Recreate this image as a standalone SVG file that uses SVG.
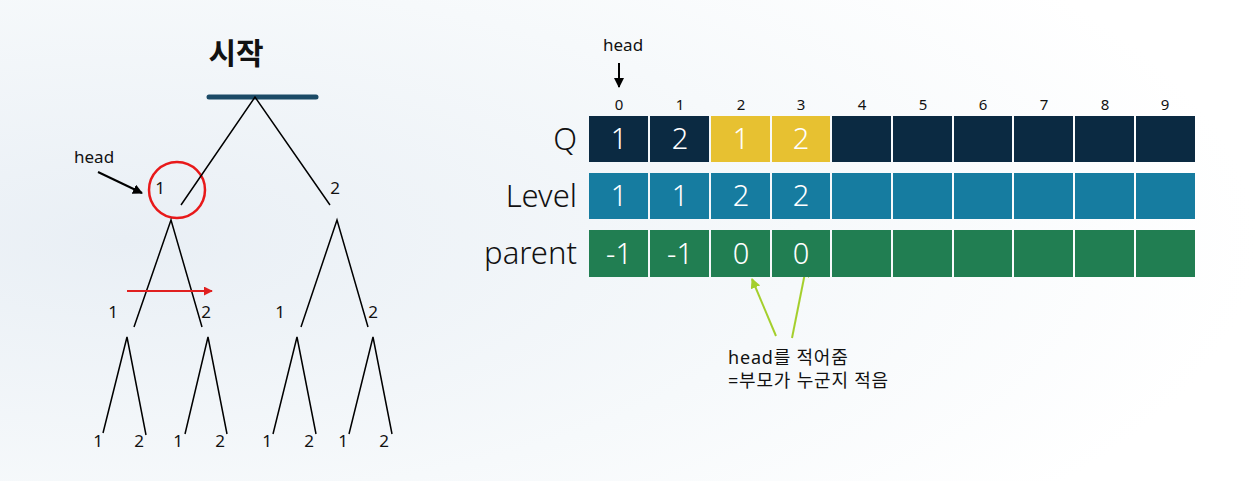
<svg xmlns="http://www.w3.org/2000/svg" width="1256" height="481" viewBox="0 0 1256 481">
<defs>
<radialGradient id="bg" cx="0.1" cy="0.5" r="0.9">
<stop offset="0" stop-color="#e9eff5"/>
<stop offset="0.6" stop-color="#f6f9fb"/>
<stop offset="1" stop-color="#ffffff"/>
</radialGradient>
<marker id="ab" viewBox="0 0 10 10" refX="9" refY="5" markerWidth="5" markerHeight="5" orient="auto"><path d="M0,0 L10,5 L0,10 z" fill="#000"/></marker>
<marker id="ar" viewBox="0 0 10 10" refX="9" refY="5" markerWidth="4.5" markerHeight="4.5" orient="auto"><path d="M0,0 L10,5 L0,10 z" fill="#e02020"/></marker>
<marker id="ag" viewBox="0 0 10 10" refX="9" refY="5" markerWidth="5" markerHeight="5" orient="auto"><path d="M0,0 L10,5 L0,10 z" fill="#a4cf2c"/></marker>
</defs>
<style>
text{font-family:"Noto Sans","Noto Sans CJK KR",sans-serif;fill:#111}
.t{font-size:17px}
.n{font-size:18px;letter-spacing:0.8px}
.idx{font-size:15px;text-anchor:middle}
.cell{font-size:29px;fill:#fff;text-anchor:middle;font-weight:300}
.rl{font-size:31px;text-anchor:end;font-weight:300}
.e{stroke:#000;stroke-width:1.5;fill:none}
.q{fill:#0b2a42}.y{fill:#e7c131}.l{fill:#167ca0}.p{fill:#217e52}
</style>
<rect width="1256" height="481" fill="url(#bg)"/>
<g id="title"><text x="236" y="64" font-size="30" font-weight="bold" text-anchor="middle">시작</text></g>
<g id="tree">
<line x1="209" y1="97" x2="316" y2="97" stroke="#1b4a66" stroke-width="5" stroke-linecap="round"/>
<circle cx="177" cy="190" r="28" fill="none" stroke="#e8191a" stroke-width="2.5"/>
<text x="160" y="194" class="t" text-anchor="middle">1</text>
<text x="335" y="194" class="t" text-anchor="middle">2</text>
<text x="113" y="318" class="t" text-anchor="middle">1</text>
<text x="206" y="318" class="t" text-anchor="middle">2</text>
<text x="280" y="318" class="t" text-anchor="middle">1</text>
<text x="373" y="318" class="t" text-anchor="middle">2</text>
<text x="98" y="447" class="t" text-anchor="middle">1</text>
<text x="139" y="447" class="t" text-anchor="middle">2</text>
<text x="178" y="447" class="t" text-anchor="middle">1</text>
<text x="220" y="447" class="t" text-anchor="middle">2</text>
<text x="267" y="447" class="t" text-anchor="middle">1</text>
<text x="309" y="447" class="t" text-anchor="middle">2</text>
<text x="343" y="447" class="t" text-anchor="middle">1</text>
<text x="384" y="447" class="t" text-anchor="middle">2</text>
<text x="74" y="163" class="t">head</text>
</g>
<g id="connectors">
<polyline class="e" points="181,205 255,97 330,205"/>
<polyline class="e" points="134,327 171,220 202,327"/>
<polyline class="e" points="301,327 337,220 368,327"/>
<polyline class="e" points="103,433 127,337 146,435"/>
<polyline class="e" points="185,434 208,337 227,434"/>
<polyline class="e" points="273,434 297,337 316,434"/>
<polyline class="e" points="349,434 373,337 392,434"/>
<line x1="98" y1="172" x2="142" y2="193" stroke="#000" stroke-width="2" marker-end="url(#ab)"/>
<line x1="127" y1="291" x2="212" y2="291" stroke="#e02020" stroke-width="2" marker-end="url(#ar)"/>
<line x1="619" y1="63" x2="619" y2="87" stroke="#000" stroke-width="2" marker-end="url(#ab)"/>
<line x1="776" y1="336" x2="752" y2="279" stroke="#a4cf2c" stroke-width="2" marker-end="url(#ag)"/>
<line x1="792" y1="338" x2="806" y2="268" stroke="#a4cf2c" stroke-width="2" marker-end="url(#ag)"/>
</g>
<g id="array">
<text x="603" y="51" class="t">head</text>
<g id="indices">
<text x="619" y="110" class="idx">0</text><text x="680" y="110" class="idx">1</text><text x="741" y="110" class="idx">2</text><text x="801" y="110" class="idx">3</text><text x="862" y="110" class="idx">4</text><text x="923" y="110" class="idx">5</text><text x="983" y="110" class="idx">6</text><text x="1044" y="110" class="idx">7</text><text x="1105" y="110" class="idx">8</text><text x="1165" y="110" class="idx">9</text>
</g>
<text x="577" y="150" class="rl">Q</text>
<text x="577" y="207" class="rl">Level</text>
<text x="577" y="264" class="rl">parent</text>
<g id="rowQ">
<rect x="589" y="116" width="59" height="46" class="q"/><rect x="650" y="116" width="59" height="46" class="q"/><rect x="711" y="116" width="59" height="46" class="y"/><rect x="772" y="116" width="58" height="46" class="y"/><rect x="832" y="116" width="59" height="46" class="q"/><rect x="893" y="116" width="59" height="46" class="q"/><rect x="954" y="116" width="58" height="46" class="q"/><rect x="1014" y="116" width="59" height="46" class="q"/><rect x="1075" y="116" width="59" height="46" class="q"/><rect x="1136" y="116" width="59" height="46" class="q"/>
<text x="619" y="149" class="cell">1</text><text x="680" y="149" class="cell">2</text><text x="741" y="149" class="cell">1</text><text x="801" y="149" class="cell">2</text>
</g>
<g id="rowLevel">
<rect x="589" y="173" width="59" height="46" class="l"/><rect x="650" y="173" width="59" height="46" class="l"/><rect x="711" y="173" width="59" height="46" class="l"/><rect x="772" y="173" width="58" height="46" class="l"/><rect x="832" y="173" width="59" height="46" class="l"/><rect x="893" y="173" width="59" height="46" class="l"/><rect x="954" y="173" width="58" height="46" class="l"/><rect x="1014" y="173" width="59" height="46" class="l"/><rect x="1075" y="173" width="59" height="46" class="l"/><rect x="1136" y="173" width="59" height="46" class="l"/>
<text x="619" y="206" class="cell">1</text><text x="680" y="206" class="cell">1</text><text x="741" y="206" class="cell">2</text><text x="801" y="206" class="cell">2</text>
</g>
<g id="rowParent">
<rect x="589" y="230" width="59" height="47" class="p"/><rect x="650" y="230" width="59" height="47" class="p"/><rect x="711" y="230" width="59" height="47" class="p"/><rect x="772" y="230" width="58" height="47" class="p"/><rect x="832" y="230" width="59" height="47" class="p"/><rect x="893" y="230" width="59" height="47" class="p"/><rect x="954" y="230" width="58" height="47" class="p"/><rect x="1014" y="230" width="59" height="47" class="p"/><rect x="1075" y="230" width="59" height="47" class="p"/><rect x="1136" y="230" width="59" height="47" class="p"/>
<text x="619" y="264" class="cell">-1</text><text x="680" y="264" class="cell">-1</text><text x="741" y="264" class="cell">0</text><text x="801" y="264" class="cell">0</text>
</g>
</g>
<g id="note">
<text x="728" y="364" class="n">head를 적어줌</text>
<text x="728" y="387" class="n">=부모가 누군지 적음</text>
</g>
</svg>
